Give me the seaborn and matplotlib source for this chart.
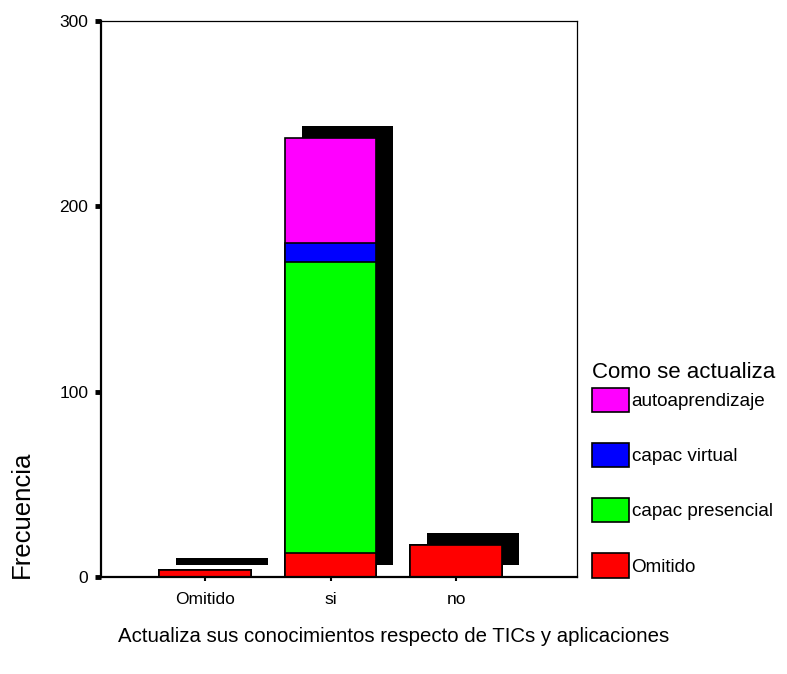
import numpy as np
import pandas as pd
import seaborn as sns
import matplotlib.pyplot as plt
from matplotlib.patches import Patch
from matplotlib.transforms import ScaledTranslation

# categories on the x axis and counts per "Como se actualiza" group
categories = ["Omitido", "si", "no"]
series = ["Omitido", "capac presencial", "capac virtual", "autoaprendizaje"]
omitido = [4, 13, 17]
capac_presencial = [0, 157, 0]
capac_virtual = [0, 10, 0]
autoaprendizaje = [0, 57, 0]
colors = ["#ff0000", "#00ff00", "#0000ff", "#ff00ff"]

counts = np.array([omitido, capac_presencial, capac_virtual, autoaprendizaje])
cumulative = counts.cumsum(axis=0)
df = pd.DataFrame(cumulative.T, columns=series)
df["cat"] = categories

sns.set_style("white", {"text.color": "black", "axes.labelcolor": "black",
                        "xtick.color": "black", "ytick.color": "black"})
plt.rcParams["font.family"] = ["Liberation Sans", "DejaVu Sans"]

fig = plt.figure(figsize=(7.87, 6.74), dpi=100)
ax = fig.add_axes([0.128, 0.144, 0.605, 0.825])

bar_w = 0.73

# drop shadow behind each full bar
sns.barplot(data=df, x="cat", y=series[-1], order=categories, color="black",
            saturation=1, width=bar_w, errorbar=None, linewidth=0, ax=ax)
shift = ScaledTranslation(17 / 100, 12 / 100, fig.dpi_scale_trans)
for p in ax.containers[-1]:
    p.set_transform(ax.transData + shift)
    p.set_zorder(1)

# stacked segments drawn from the top down
for name, col in zip(series[::-1], colors[::-1]):
    sns.barplot(data=df, x="cat", y=name, order=categories, color=col,
                saturation=1, width=bar_w, errorbar=None,
                edgecolor="black", linewidth=1.2, ax=ax)
    for p in ax.containers[-1]:
        p.set_zorder(2)

ax.set_xlim(-0.83, 2.96)
ax.set_ylim(0, 300)
ax.set_yticks([0, 100, 200, 300])
ax.set_xlabel("")
ax.set_ylabel("")
ax.tick_params(left=True, bottom=True)
ax.tick_params(axis="y", direction="out", length=4, width=3.5, labelsize=12.5, pad=5, color="black")
ax.tick_params(axis="x", direction="out", length=3, width=1.5, labelsize=12.5, pad=8, color="black")
for s in ["left", "bottom"]:
    ax.spines[s].set_linewidth(1.6)
for s in ["top", "right"]:
    ax.spines[s].set_linewidth(0.9)
for s in ax.spines.values():
    s.set_color("black")

fig.text(22 / 787, (674 - 578) / 674, "Frecuencia", rotation=90,
         ha="center", va="bottom", fontsize=18.5)
fig.text(394 / 787, (674 - 636) / 674,
         "Actualiza sus conocimientos respecto de TICs y aplicaciones",
         ha="center", va="center", fontsize=14.7)

handles = [Patch(facecolor=c, edgecolor="black", linewidth=1.2)
           for c in colors[::-1]]
leg = fig.legend(handles, series[::-1], loc="upper left",
                 bbox_to_anchor=(583 / 787, (674 - 353) / 674),
                 frameon=False, title="Como se actualiza", title_fontsize=16,
                 fontsize=13.6, handlelength=1.95, handleheight=1.6,
                 handletextpad=0.12, labelspacing=1.64, borderpad=0,
                 alignment="left")
leg._legend_box.sep = 3

fig.savefig("out.png", dpi=100)
